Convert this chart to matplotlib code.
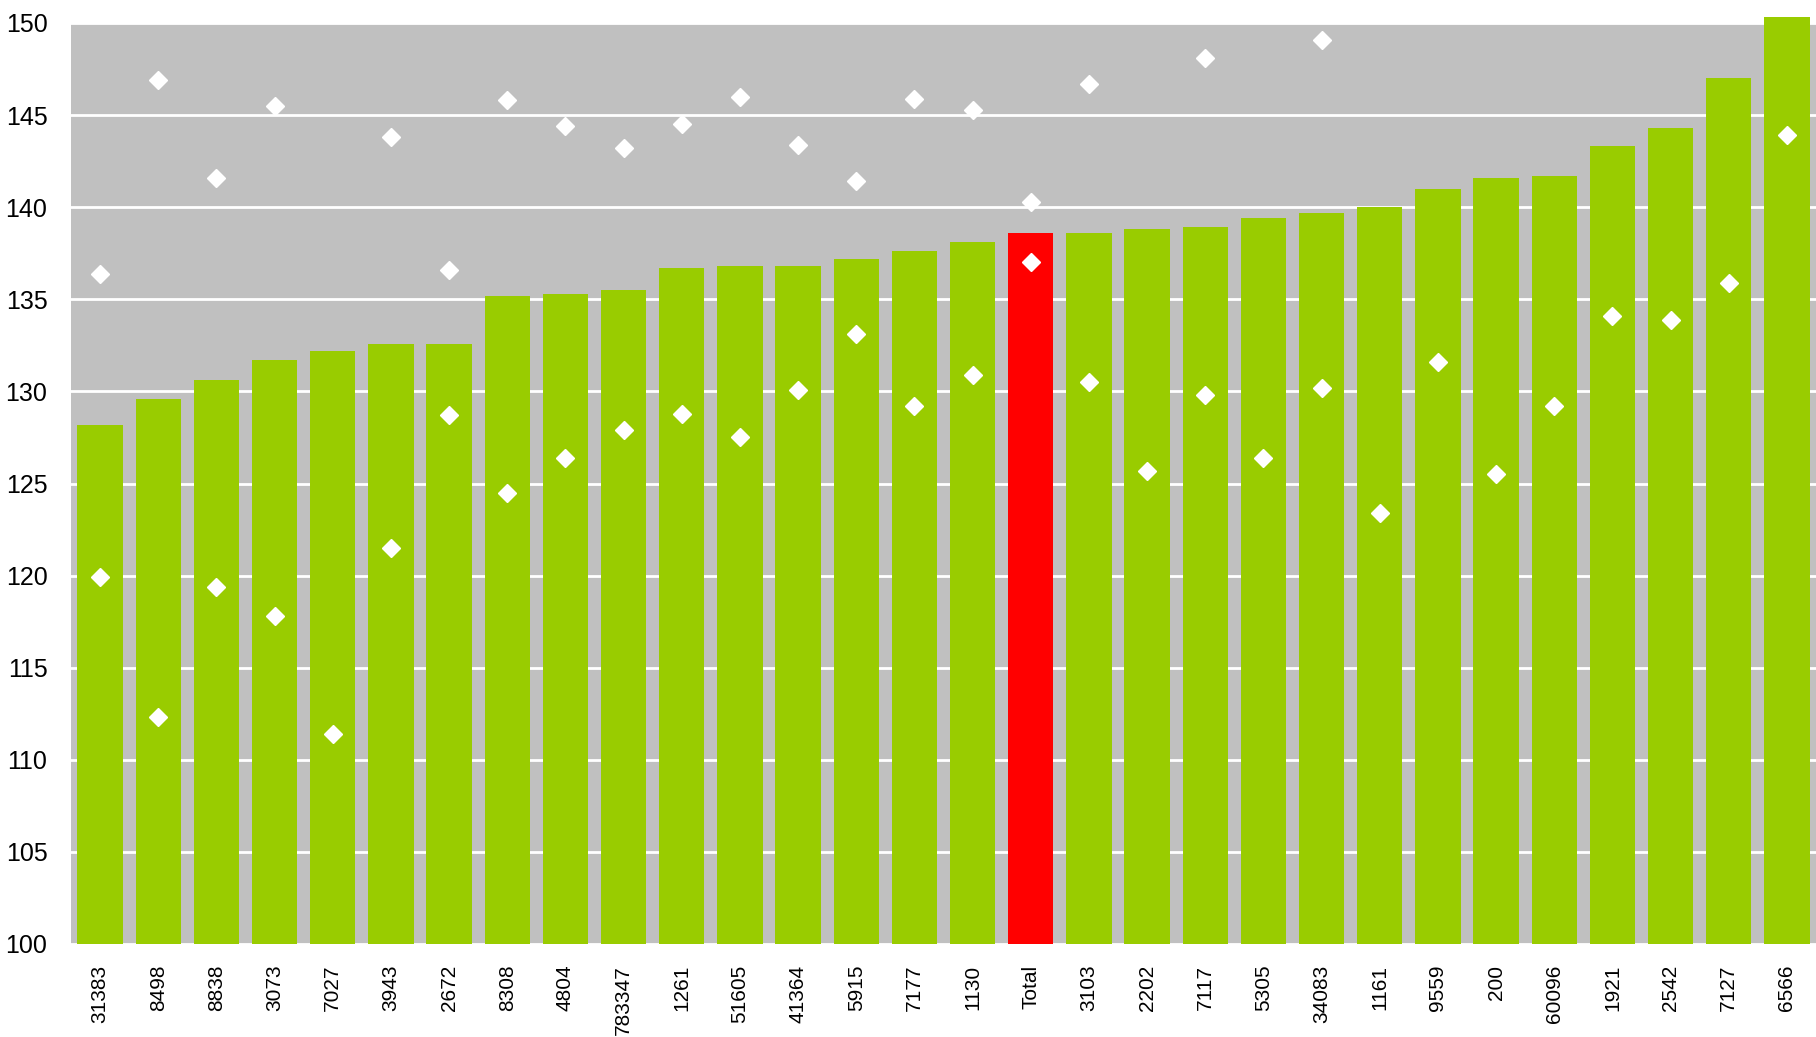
import matplotlib.pyplot as plt
import numpy as np

plt.rcParams['font.family'] = ['Liberation Sans', 'DejaVu Sans']

labels = ["31383", "8498", "8838", "3073", "7027", "3943", "2672", "8308", "4804", "783347",
          "1261", "51605", "41364", "5915", "7177", "1130", "Total", "3103", "2202", "7117",
          "5305", "34083", "1161", "9559", "200", "60096", "1921", "2542", "7127", "6566"]
bar_values = [128.2, 129.6, 130.6, 131.7, 132.2, 132.6, 132.6, 135.2, 135.3, 135.5,
              136.7, 136.8, 136.8, 137.2, 137.6, 138.1, 138.6, 138.6, 138.8, 138.9,
              139.4, 139.7, 140.0, 141.0, 141.6, 141.7, 143.3, 144.3, 147.0, 150.3]
upper = [136.4, 146.9, 141.6, 145.5, np.nan, 143.8, 136.6, 145.8, 144.4, 143.2,
         144.5, 146.0, 143.4, 141.4, 145.9, 145.3, 140.3, 146.7, np.nan, 148.1,
         np.nan, 149.1, np.nan, np.nan, np.nan, np.nan, np.nan, np.nan, np.nan, np.nan]
lower = [119.9, 112.3, 119.4, 117.8, 111.4, 121.5, 128.7, 124.5, 126.4, 127.9,
         128.8, 127.5, 130.1, 133.1, 129.2, 130.9, 137.0, 130.5, 125.7, 129.8,
         126.4, 130.2, 123.4, 131.6, 125.5, 129.2, 134.1, 133.9, 135.9, 143.9]

colors = ['#FF0000' if l == "Total" else '#99CC00' for l in labels]
x = np.arange(len(labels))

fig = plt.figure(figsize=(18.16, 10.37), dpi=100)
ax = fig.add_axes([71/1816, 1 - 944/1037, 1 - 71/1816, (944 - 23)/1037])
ax.set_facecolor('#C0C0C0')

ax.set_ylim(100, 150)
ax.set_xlim(-0.5, len(labels) - 0.5)
ax.set_yticks(np.arange(100, 151, 5))
ax.yaxis.grid(True, color='white', linewidth=2)
ax.set_axisbelow(True)

bars = ax.bar(x, np.array(bar_values) - 100, bottom=100, width=0.78, color=colors, zorder=2)
for b in bars:
    b.set_clip_on(False)

# diamonds
ax.plot(x, upper, linestyle='none', marker='D', markersize=9.5, color='white', zorder=3)
ax.plot(x, lower, linestyle='none', marker='D', markersize=9.5, color='white', zorder=3)

for s in ax.spines.values():
    s.set_visible(False)
ax.tick_params(length=0)
ax.tick_params(axis='y', labelsize=18, pad=17)
ax.set_xticks(x)
ax.set_xticklabels(labels, rotation=90, fontsize=15, va='top')
ax.tick_params(axis='x', pad=15)

fig.savefig('out.png', dpi=100)
